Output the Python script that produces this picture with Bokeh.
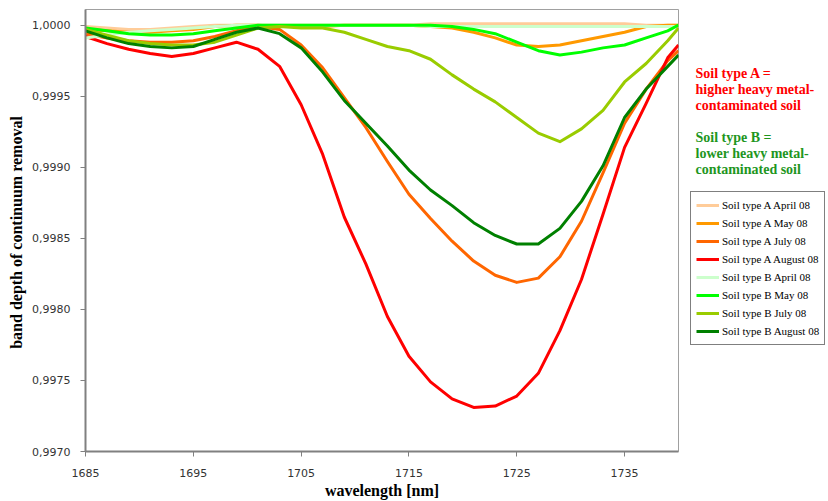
from bokeh.plotting import figure
from bokeh.layouts import row
from bokeh.models import (Range1d, FixedTicker, CustomJSTickFormatter, Legend,
                          LegendItem, Label)
from bokeh.embed import file_html
from bokeh.resources import INLINE

# ---- data ----
wavelength = [1685, 1687, 1689, 1691, 1693, 1695, 1697, 1699, 1701, 1703,
              1705, 1707, 1709, 1711, 1713, 1715, 1717, 1719, 1721, 1723,
              1725, 1727, 1729, 1731, 1733, 1735, 1737, 1739, 1740]

a_april = [0.99999, 0.99998, 0.99997, 0.99997, 0.99998, 0.99999, 1.0, 1.0, 1.0, 1.0,
           1.0, 1.0, 1.0, 1.0, 1.0, 1.0, 1.00001, 1.00001, 1.00001, 1.00001,
           1.00001, 1.00001, 1.00001, 1.00001, 1.00001, 1.00001, 1.0, 1.0, 1.0]
a_may = [0.99997, 0.99996, 0.99995, 0.99995, 0.99996, 0.99997, 0.99999, 1.0, 1.0, 0.99999,
         0.99999, 0.99999, 1.0, 1.0, 1.0, 1.0, 0.99999, 0.99998, 0.99995, 0.99991,
         0.99986, 0.99985, 0.99986, 0.99989, 0.99992, 0.99995, 0.99999, 1.0, 1.0]
a_july = [0.99994, 0.99991, 0.99989, 0.99988, 0.99988, 0.99989, 0.99992, 0.99996, 0.99999, 0.99997,
          0.99986, 0.99970, 0.99949, 0.99928, 0.99904, 0.99881, 0.99864, 0.99848, 0.99834, 0.99824,
          0.99819, 0.99822, 0.99837, 0.99862, 0.99896, 0.99931, 0.99955, 0.99975, 0.99982]
a_august = [0.99992, 0.99987, 0.99983, 0.99980, 0.99978, 0.99980, 0.99984, 0.99988, 0.99983, 0.99971,
            0.99944, 0.99909, 0.99865, 0.99832, 0.99795, 0.99767, 0.99749, 0.99737, 0.99731, 0.99732,
            0.99739, 0.99755, 0.99785, 0.99821, 0.99867, 0.99914, 0.99945, 0.99977, 0.99986]
b_april = [0.99991, 0.99993, 0.99995, 0.99996, 0.99997, 0.99998, 0.99999, 1.0, 1.0, 1.0,
           1.0, 1.0, 1.0, 1.0, 1.0, 1.0, 0.99999, 0.99999, 0.99999, 0.99999,
           0.99999, 0.99999, 0.99999, 0.99999, 0.99999, 0.99999, 0.99999, 0.99999, 0.99999]
b_may = [0.99998, 0.99996, 0.99994, 0.99993, 0.99993, 0.99994, 0.99996, 0.99998, 1.0, 1.0,
         1.0, 1.0, 1.0, 1.0, 1.0, 1.0, 1.0, 0.99999, 0.99997, 0.99994,
         0.99988, 0.99982, 0.99979, 0.99981, 0.99984, 0.99986, 0.99991, 0.99996, 1.0]
b_july = [0.99997, 0.99993, 0.99989, 0.99987, 0.99986, 0.99986, 0.99988, 0.99993, 0.99998, 0.99999,
          0.99998, 0.99998, 0.99995, 0.99990, 0.99985, 0.99982, 0.99976, 0.99965, 0.99955, 0.99946,
          0.99935, 0.99924, 0.99918, 0.99927, 0.99940, 0.99960, 0.99973, 0.99989, 0.99998]
b_august = [0.99996, 0.99991, 0.99987, 0.99985, 0.99984, 0.99985, 0.99990, 0.99995, 0.99998, 0.99994,
            0.99984, 0.99967, 0.99947, 0.99931, 0.99915, 0.99898, 0.99884, 0.99873, 0.99861, 0.99852,
            0.99846, 0.99846, 0.99857, 0.99876, 0.99901, 0.99935, 0.99955, 0.99971, 0.99979]

series_names = ["Soil type A April 08", "Soil type A May 08", "Soil type A July 08",
                "Soil type A August 08", "Soil type B April 08", "Soil type B May 08",
                "Soil type B July 08", "Soil type B August 08"]
series_values = [a_april, a_may, a_july, a_august, b_april, b_may, b_july, b_august]
series_colors = ["#FFCC99", "#FF9900", "#FF6600", "#FF0000",
                 "#CCFFCC", "#00FF00", "#99CC00", "#008000"]

x_ticks = [1685, 1695, 1705, 1715, 1725, 1735]
y_ticks = [0.9970, 0.9975, 0.9980, 0.9985, 0.9990, 0.9995, 1.0000]

note_a = ["Soil type A =", "higher heavy metal-", "contaminated  soil"]
note_b = ["Soil type B =", "lower heavy metal-", "contaminated  soil"]

SERIF = "Liberation Serif"
SANS = "DejaVu Sans"
H = 501
FRAME_TOP, FRAME_BOTTOM = 9, 451

# ---- main chart ----
p = figure(width=680, height=H, output_backend="svg", toolbar_location=None,
           x_range=Range1d(1685, 1740), y_range=Range1d(0.9970, 1.00011),
           min_border_left=85, min_border_right=2, min_border_top=FRAME_TOP,
           min_border_bottom=H - FRAME_BOTTOM)
p.background_fill_color = "white"
p.border_fill_color = "white"
p.outline_line_color = "#A0A0A0"
p.outline_line_width = 1
p.xgrid.visible = False
p.ygrid.visible = False

for name, vals, col in zip(series_names, series_values, series_colors):
    p.line(wavelength, vals, line_color=col, line_width=3, line_join="round")

for ax in (p.xaxis[0], p.yaxis[0]):
    ax.axis_line_color = "#808080"
    ax.axis_line_width = 2
    ax.major_tick_line_color = "#808080"
    ax.major_tick_line_width = 1
    ax.major_tick_in = 0
    ax.major_tick_out = 5
    ax.minor_tick_line_color = None
    ax.major_label_text_font = SANS
    ax.major_label_text_font_size = "11px"
    ax.major_label_text_color = "#333333"
    ax.axis_label_text_font = SERIF
    ax.axis_label_text_font_style = "bold"
    ax.axis_label_text_color = "black"
    ax.axis_label_text_font_size = "16px"

p.xaxis.ticker = FixedTicker(ticks=x_ticks)
p.yaxis.ticker = FixedTicker(ticks=y_ticks)
p.yaxis.formatter = CustomJSTickFormatter(code="return tick.toFixed(4).replace('.', ',');")
p.xaxis.axis_label = "wavelength [nm]"
p.yaxis.axis_label = "band depth  of continuum removal"
p.xaxis.major_label_standoff = 12
p.xaxis.axis_label_standoff = 2
p.yaxis.major_label_standoff = 10
p.yaxis.axis_label_standoff = 4

# ---- side panel: notes and legend (its frame is aligned with the main frame) ----
SW = 148
side = figure(width=SW, height=H, output_backend="svg", toolbar_location=None,
              x_range=Range1d(0, SW), y_range=Range1d(FRAME_BOTTOM, FRAME_TOP),
              x_axis_type=None, y_axis_type=None,
              min_border_left=0, min_border_right=0, min_border_top=FRAME_TOP,
              min_border_bottom=H - FRAME_BOTTOM)
side.grid.visible = False
side.outline_line_color = None
side.background_fill_color = "white"
side.border_fill_color = "white"

nan = float("nan")
items = []
for name, col in zip(series_names, series_colors):
    r = side.line(x=[nan], y=[nan], line_color=col, line_width=3)
    items.append(LegendItem(label=name, renderers=[r]))

legend = Legend(items=items, location=(10, FRAME_BOTTOM - 345), orientation="vertical",
                label_text_font=SERIF, label_text_font_size="11px",
                label_text_color="black", glyph_width=23, glyph_height=16,
                label_height=16, spacing=2, padding=5, margin=0,
                label_standoff=3, border_line_color="black", border_line_width=1,
                background_fill_color="white", background_fill_alpha=1.0)
side.add_layout(legend)

note_x = 15
y_a = [73, 89, 105]
y_b = [137, 153, 169]
for txt, yy in zip(note_a, y_a):
    side.add_layout(Label(x=note_x, y=yy, text=txt, text_font=SERIF,
                          text_font_size="14px", text_font_style="bold",
                          text_color="#FF0000", text_baseline="alphabetic"))
for txt, yy in zip(note_b, y_b):
    side.add_layout(Label(x=note_x, y=yy, text=txt, text_font=SERIF,
                          text_font_size="14px", text_font_style="bold",
                          text_color="#1E961E", text_baseline="alphabetic"))

layout = row(p, side, spacing=0)
open("out.html", "w").write(file_html(layout, INLINE))
